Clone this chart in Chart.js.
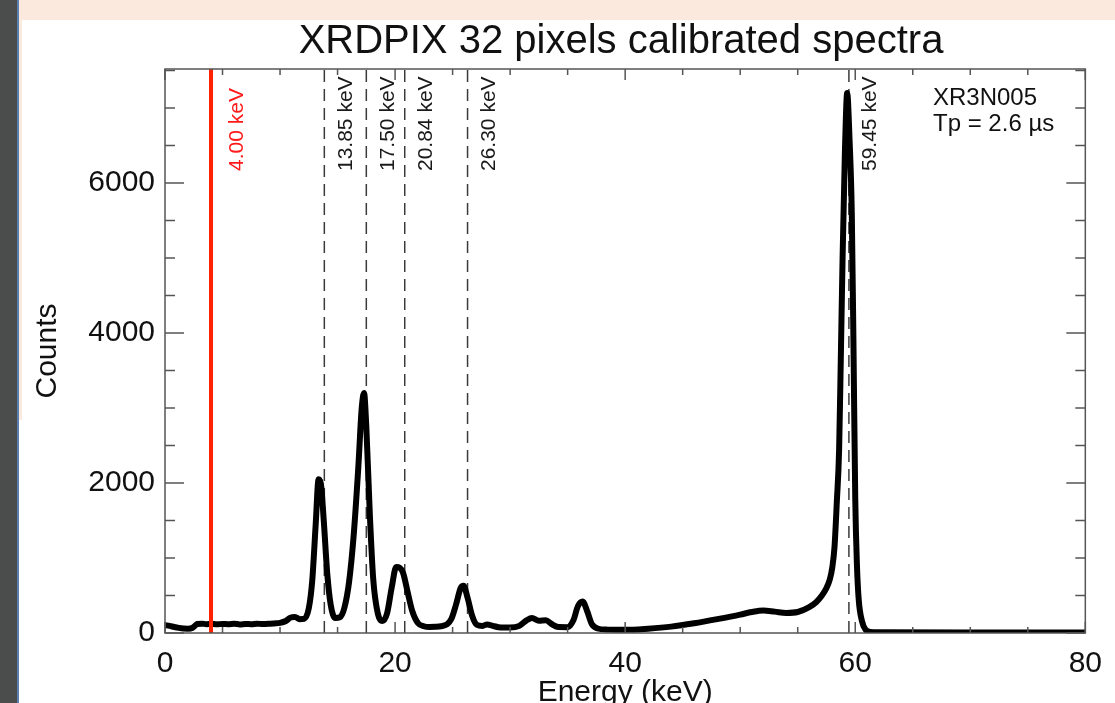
<!DOCTYPE html>
<html>
<head>
<meta charset="utf-8">
<script src="https://cdn.jsdelivr.net/npm/chart.js@4.4.0/dist/chart.umd.min.js"></script>
<style>
html, body { margin: 0; padding: 0; width: 1115px; height: 703px; overflow: hidden; background: #fff; }
#strip { position: absolute; left: 0; top: 0; width: 17px; height: 703px; background: #4b4d4c; }
#edge { position: absolute; left: 17px; top: 0; width: 2px; height: 703px; background: #5a7fb0; }
#band { position: absolute; left: 19px; top: 0; width: 1096px; height: 20px; background: #fbe9dd; }
#side { position: absolute; left: 19px; top: 20px; width: 3px; height: 400px; background: #fbe9dd; }
#chart { position: absolute; left: 0; top: 0; }
</style>
</head>
<body>
<div id="strip"></div>
<div id="edge"></div>
<div id="band"></div>
<div id="side"></div>
<canvas id="chart" width="1115" height="730"></canvas>
<script>
// spectrum (energy in keV, counts)
var energy = [0.0, 0.4, 0.8, 1.2, 1.6, 2.0, 2.4, 2.8, 3.2, 3.6, 4.0, 4.5, 5.0, 5.5, 6.0, 6.5, 7.0, 7.5, 8.0, 8.5,
    9.0, 9.5, 10.0, 10.5, 10.9, 11.3, 11.7, 12.1, 12.5, 12.8, 13.1, 13.35, 13.55, 13.8, 14.1, 14.4, 14.8, 15.2, 15.6,
    16.0, 16.4, 16.8, 17.1, 17.3, 17.5, 17.8, 18.1, 18.5, 18.9, 19.3, 19.7, 20.1, 20.4, 20.7, 21.1, 21.5, 22.0, 22.5,
    23.0, 23.5, 24.0, 24.5, 24.9, 25.3, 25.7, 25.95, 26.3, 26.7, 27.1, 27.6, 28.0, 28.5, 29.0, 30.0, 30.8, 31.4, 31.9,
    32.5, 33.1, 33.6, 34.2, 35.0, 35.5, 35.9, 36.3, 36.7, 37.1, 37.6, 38.5, 40.0, 42.0, 44.0, 46.0, 48.0, 50.0, 51.0,
    52.0, 53.0, 54.0, 55.0, 56.0, 56.6, 57.1, 57.5, 57.8, 58.0, 58.2, 58.4, 58.6, 58.75, 58.9, 59.1, 59.3, 59.5, 59.7,
    59.85, 60.0, 60.15, 60.3, 60.6, 60.9, 61.3, 62.0, 70.0, 80.0];
var counts = [105, 95, 80, 68, 60, 58, 70, 120, 125, 118, 122, 116, 121, 117, 123, 115, 120, 118, 124, 119,
    122, 128, 135, 160, 205, 215, 185, 190, 330, 700, 1450, 2050, 1990, 1500, 800, 380, 200, 210, 340,
    680, 1300, 2200, 3000, 3200, 2750, 1600, 720, 260, 160, 260, 600, 880, 870, 800, 540, 290, 130, 90,
    80, 82, 90, 115, 190, 380, 600, 630, 470, 230, 110, 95, 115, 95, 78, 72, 95, 165, 200,
    165, 170, 120, 80, 78, 170, 360, 420, 290, 120, 60, 45, 42, 58, 85, 130, 185, 245, 280,
    300, 285, 268, 280, 345, 410, 500, 600, 720, 870, 1150, 1750, 2450, 3700, 5000, 6400, 7200, 6600, 5600,
    3800, 1800, 900, 450, 150, 45, 15, 10, 8, 8];

var lineEnergies = [13.85, 17.50, 20.84, 26.30, 59.45];
var lineLabels = ["13.85 keV", "17.50 keV", "20.84 keV", "26.30 keV", "59.45 keV"];
var thresholdEnergy = 4.00;
var thresholdLabel = "4.00 keV";

var xTicks = [0, 20, 40, 60, 80];
var yTicks = [0, 2000, 4000, 6000];
var yMax = 7520;

var titleText = "XRDPIX 32 pixels calibrated spectra";
var infoLines = ["XR3N005", "Tp = 2.6 \u00b5s"];

var FONT = '"Liberation Sans", Arial, Helvetica, sans-serif';

var spectrum = [];
for (let i = 0; i < energy.length; i++) {
    spectrum.push({ x: energy[i], y: counts[i] });
}

var datasets = [];
datasets.push({
    data: [{ x: thresholdEnergy, y: 0 }, { x: thresholdEnergy, y: yMax }],
    borderColor: '#ff2200',
    borderWidth: 4,
    pointRadius: 0,
    order: 0
});
datasets.push({
    data: spectrum,
    borderColor: '#000',
    borderWidth: 6,
    pointRadius: 0,
    cubicInterpolationMode: 'monotone',
    order: 1
});
for (let i = 0; i < lineEnergies.length; i++) {
    datasets.push({
        data: [{ x: lineEnergies[i], y: 0 }, { x: lineEnergies[i], y: yMax }],
        borderColor: '#3a3a3a',
        borderWidth: 1.5,
        borderDash: [12, 7],
        pointRadius: 0,
        order: 2
    });
}

// IDL style frame: box, inward ticks on all four sides, line labels and titles
var idlFrame = {
    id: 'idlFrame',
    afterDatasetsDraw: function (chart) {
        var ctx = chart.ctx;
        var a = chart.chartArea;
        var xs = chart.scales.x;
        var ys = chart.scales.y;
        ctx.save();

        ctx.strokeStyle = '#555';
        ctx.lineWidth = 1.5;
        ctx.strokeRect(a.left, a.top, a.right - a.left, a.bottom - a.top);

        ctx.beginPath();
        for (let v = xs.min; v <= xs.max; v += 5) {
            let px = xs.getPixelForValue(v);
            let len = (v % 20 === 0) ? 11 : 6;
            ctx.moveTo(px, a.bottom); ctx.lineTo(px, a.bottom - len);
            ctx.moveTo(px, a.top); ctx.lineTo(px, a.top + len);
        }
        for (let v = 0; v <= ys.max; v += 500) {
            let py = ys.getPixelForValue(v);
            let len = (v % 2000 === 0) ? 19 : 10;
            ctx.moveTo(a.left, py); ctx.lineTo(a.left + len, py);
            ctx.moveTo(a.right, py); ctx.lineTo(a.right - len, py);
        }
        ctx.stroke();

        // rotated line labels
        ctx.font = '21px ' + FONT;
        ctx.textAlign = 'left';
        ctx.textBaseline = 'top';
        var labelBottom = 171;
        for (let i = 0; i < lineEnergies.length; i++) {
            ctx.save();
            ctx.translate(xs.getPixelForValue(lineEnergies[i]) + 11, labelBottom);
            ctx.rotate(-Math.PI / 2);
            ctx.fillStyle = '#1a1a1a';
            ctx.fillText(lineLabels[i], 0, 0);
            ctx.restore();
        }
        ctx.save();
        ctx.translate(xs.getPixelForValue(thresholdEnergy) + 16, labelBottom);
        ctx.rotate(-Math.PI / 2);
        ctx.fillStyle = '#ff1a1a';
        ctx.fillText(thresholdLabel, 0, 0);
        ctx.restore();

        // detector info
        ctx.font = '24px ' + FONT;
        ctx.fillStyle = '#111';
        ctx.textBaseline = 'alphabetic';
        ctx.fillText(infoLines[0], 933, 105);
        ctx.fillText(infoLines[1], 933, 131);

        // title
        ctx.font = '40px ' + FONT;
        ctx.textAlign = 'center';
        ctx.fillText(titleText, 621, 53);

        ctx.restore();
    }
};

var ctx = document.getElementById('chart').getContext('2d');
var myChart = new Chart(ctx, {
    type: 'line',
    data: { datasets: datasets },
    plugins: [idlFrame],
    options: {
        responsive: false,
        animation: false,
        layout: { padding: { top: 69, right: 28, left: 0, bottom: 0 } },
        plugins: {
            legend: { display: false },
            title: { display: false },
            tooltip: { enabled: false }
        },
        scales: {
            x: {
                type: 'linear',
                min: xTicks[0],
                max: xTicks[xTicks.length - 1],
                afterFit: function (scale) { scale.height = 97; },
                afterBuildTicks: function (scale) {
                    scale.ticks = xTicks.map(function (v) { return { value: v }; });
                },
                grid: { display: false, drawTicks: false },
                border: { display: false },
                ticks: {
                    autoSkip: false,
                    padding: 13,
                    maxRotation: 0,
                    color: '#111',
                    font: { family: FONT, size: 30 }
                },
                title: {
                    display: true,
                    text: 'Energy (keV)',
                    color: '#111',
                    font: { family: FONT, size: 30 },
                    padding: { top: 0, bottom: 19 }
                }
            },
            y: {
                type: 'linear',
                min: 0,
                max: yMax,
                afterFit: function (scale) { scale.width = 165; },
                afterBuildTicks: function (scale) {
                    scale.ticks = yTicks.map(function (v) { return { value: v }; });
                },
                grid: { display: false, drawTicks: false },
                border: { display: false },
                ticks: {
                    autoSkip: false,
                    padding: 10,
                    color: '#111',
                    font: { family: FONT, size: 30 },
                    callback: function (value) { return String(value); }
                },
                title: {
                    display: true,
                    text: 'Counts',
                    color: '#111',
                    font: { family: FONT, size: 30 },
                    padding: { top: 30, bottom: 0 }
                }
            }
        }
    }
});
</script>
</body>
</html>
